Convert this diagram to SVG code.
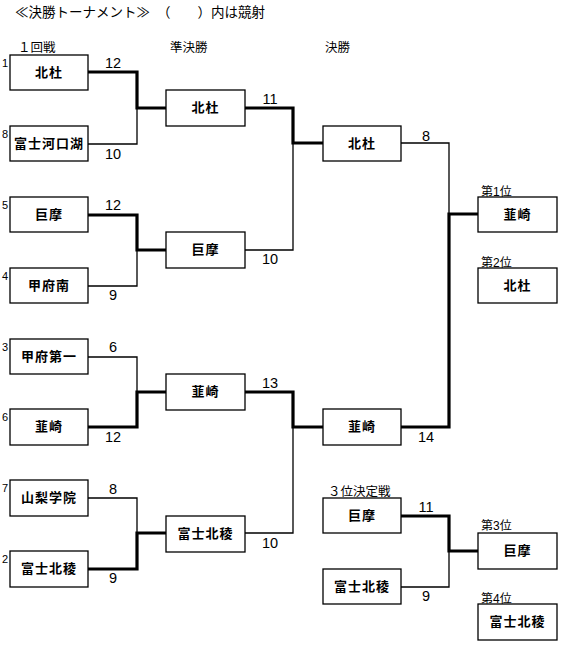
<svg xmlns="http://www.w3.org/2000/svg" width="567" height="649" viewBox="0 0 567 649">
<style>
.box{fill:#fff;stroke:#000;stroke-width:1.3}
.nm{font-family:"Noto Sans CJK JP","Noto Sans",sans-serif;font-size:13px;font-weight:bold;text-anchor:middle;letter-spacing:1px}
.hd{font-family:"Noto Sans CJK JP","Noto Sans",sans-serif;font-size:12.5px}
.tt{font-family:"Noto Sans CJK JP","Noto Sans",sans-serif;font-size:13.5px}
.rk{font-family:"Liberation Sans","Noto Sans CJK JP",sans-serif;font-size:12px}
.sd{font-family:"Liberation Sans",sans-serif;font-size:11px}
.sc{font-family:"Liberation Sans",sans-serif;font-size:14.5px;text-anchor:middle}
.th{fill:none;stroke:#000;stroke-width:1.3}
.tk{fill:none;stroke:#000;stroke-width:3.2}
</style>
<rect width="567" height="649" fill="#fff"/>
<g id="title">
<text class="tt" x="15" y="17">≪決勝トーナメント≫</text>
<text class="tt" x="157" y="17">（　　）内は競射</text>
<text class="hd" x="18" y="52">１回戦</text>
<text class="hd" x="170" y="52">準決勝</text>
<text class="hd" x="325" y="52">決勝</text>
<text class="hd" x="328" y="496">３位決定戦</text>
</g>
<g id="connectors">
<path class="th" d="M88,144H137V108"/>
<path class="tk" d="M88,72H137V108H166"/>
<path class="tk" d="M88,215H137V250H166"/>
<path class="th" d="M88,286H137V250"/>
<path class="th" d="M88,357H137V392"/>
<path class="tk" d="M88,427H137V392H166"/>
<path class="th" d="M88,498H137V533"/>
<path class="tk" d="M88,569H137V533H166"/>
<path class="th" d="M245,250H293V143"/>
<path class="tk" d="M245,108H293V143H323"/>
<path class="th" d="M245,533H293V427"/>
<path class="tk" d="M245,392H293V427H323"/>
<path class="th" d="M401,143H449V214"/>
<path class="tk" d="M401,427H449V214H478"/>
<path class="th" d="M401,587H449V551"/>
<path class="tk" d="M401,516H449V551H478"/>
</g>
<g id="scores">
<text class="sc" x="113" y="68">12</text>
<text class="sc" x="113" y="159">10</text>
<text class="sc" x="113" y="210">12</text>
<text class="sc" x="113" y="300">9</text>
<text class="sc" x="113" y="352">6</text>
<text class="sc" x="113" y="442">12</text>
<text class="sc" x="113" y="494">8</text>
<text class="sc" x="113" y="583">9</text>
<text class="sc" x="270" y="104">11</text>
<text class="sc" x="270" y="264">10</text>
<text class="sc" x="270" y="388">13</text>
<text class="sc" x="270" y="548">10</text>
<text class="sc" x="426" y="141">8</text>
<text class="sc" x="426" y="442">14</text>
<text class="sc" x="426" y="512">11</text>
<text class="sc" x="426" y="601">9</text>
</g>
<g id="r1-1"><text class="sd" x="2" y="67">1</text><rect class="box" x="10" y="55" width="78" height="35"/><text class="nm" x="49" y="77">北杜</text></g>
<g id="r1-2"><text class="sd" x="2" y="138">8</text><rect class="box" x="10" y="126" width="78" height="35"/><text class="nm" x="49" y="148">富士河口湖</text></g>
<g id="r1-3"><text class="sd" x="2" y="209">5</text><rect class="box" x="10" y="197" width="78" height="35"/><text class="nm" x="49" y="219">巨摩</text></g>
<g id="r1-4"><text class="sd" x="2" y="280">4</text><rect class="box" x="10" y="268" width="78" height="35"/><text class="nm" x="49" y="290">甲府南</text></g>
<g id="r1-5"><text class="sd" x="2" y="351">3</text><rect class="box" x="10" y="339" width="78" height="35"/><text class="nm" x="49" y="361">甲府第一</text></g>
<g id="r1-6"><text class="sd" x="2" y="421">6</text><rect class="box" x="10" y="409" width="78" height="36"/><text class="nm" x="49" y="431">韮崎</text></g>
<g id="r1-7"><text class="sd" x="2" y="492">7</text><rect class="box" x="10" y="480" width="78" height="36"/><text class="nm" x="49" y="502">山梨学院</text></g>
<g id="r1-8"><text class="sd" x="2" y="563">2</text><rect class="box" x="10" y="551" width="78" height="36"/><text class="nm" x="49" y="573">富士北稜</text></g>
<g id="sf-1"><rect class="box" x="166" y="90" width="79" height="36"/><text class="nm" x="205.5" y="112">北杜</text></g>
<g id="sf-2"><rect class="box" x="166" y="232" width="79" height="36"/><text class="nm" x="205.5" y="254">巨摩</text></g>
<g id="sf-3"><rect class="box" x="166" y="374" width="79" height="36"/><text class="nm" x="205.5" y="396">韮崎</text></g>
<g id="sf-4"><rect class="box" x="166" y="516" width="79" height="36"/><text class="nm" x="205.5" y="538">富士北稜</text></g>
<g id="f-1"><rect class="box" x="323" y="126" width="78" height="35"/><text class="nm" x="362" y="148">北杜</text></g>
<g id="f-2"><rect class="box" x="323" y="409" width="78" height="36"/><text class="nm" x="362" y="431">韮崎</text></g>
<g id="p3-1"><rect class="box" x="323" y="498" width="78" height="35"/><text class="nm" x="362" y="520">巨摩</text></g>
<g id="p3-2"><rect class="box" x="323" y="569" width="78" height="35"/><text class="nm" x="362" y="591">富士北稜</text></g>
<g id="rank1"><text class="rk" x="481" y="196">第1位</text><rect class="box" x="478" y="197" width="79" height="35"/><text class="nm" x="517.5" y="219">韮崎</text></g>
<g id="rank2"><text class="rk" x="481" y="267">第2位</text><rect class="box" x="478" y="268" width="79" height="35"/><text class="nm" x="517.5" y="290">北杜</text></g>
<g id="rank3"><text class="rk" x="481" y="530">第3位</text><rect class="box" x="478" y="533" width="79" height="36"/><text class="nm" x="517.5" y="555">巨摩</text></g>
<g id="rank4"><text class="rk" x="481" y="603">第4位</text><rect class="box" x="478" y="604" width="79" height="36"/><text class="nm" x="517.5" y="626">富士北稜</text></g>
</svg>
